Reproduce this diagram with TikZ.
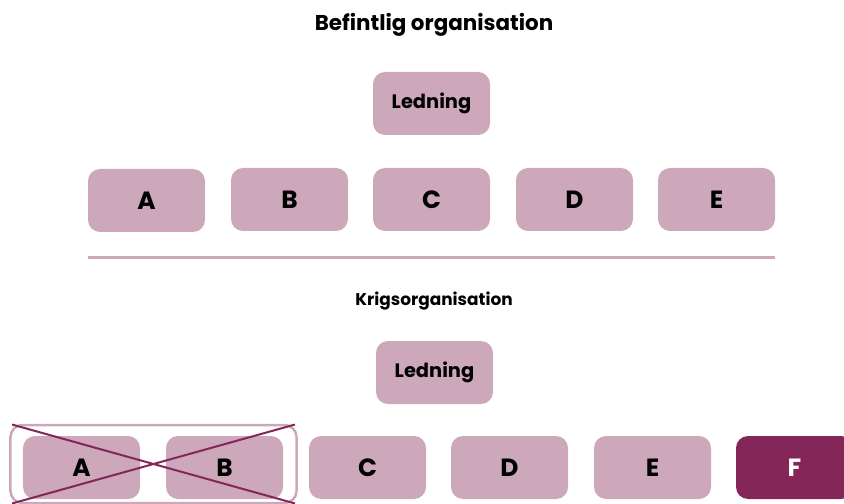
\documentclass[tikz,border=0pt]{standalone}
\usepackage{fontspec}
\setmainfont{Poppins}
\usetikzlibrary{positioning}
\definecolor{lightplum}{HTML}{CDA8BA}
\definecolor{darkplum}{HTML}{842657}
\tikzset{
    unit/.style={rounded corners=12bp, fill=lightplum, minimum width=117bp,
        minimum height=63bp, inner sep=0pt, font=\fontsize{25}{28}\selectfont\bfseries},
    leadunit/.style={unit, font=\fontsize{19.5}{22}\selectfont\bfseries},
    newunit/.style={unit, fill=darkplum, text=white},
    heading/.style={font=\fontsize{21.5}{24}\selectfont\bfseries},
    subheading/.style={font=\fontsize{17}{20}\selectfont\bfseries}
}
\begin{document}
\begin{tikzpicture}[x=1bp, y=-1bp]
    \useasboundingbox (0,0) rectangle (844,504);
    \clip (0,0) rectangle (844,504);

    % Existing organisation
    \node[heading] (title) at (434,25) {Befintlig organisation};
    \node[leadunit] (lead) at (431.5,103.5) {Ledning};
    \node[unit] (a) at (146.5,200.5) {A};
    \node[unit] (b) at (289.5,199.5) {B};
    \node[unit] (c) at (431.5,199.5) {C};
    \node[unit] (d) at (574.5,199.5) {D};
    \node[unit] (e) at (716.5,199.5) {E};

    % Separator
    \coordinate (sepl) at (88,258);
    \coordinate (sepr) at (775,258);
    \draw[lightplum, line width=3bp] (sepl) -- (sepr);

    % War organisation
    \node[subheading] (wtitle) at (434,301) {Krigsorganisation};
    \node[leadunit] (wlead) at (434.5,372.5) {Ledning};
    \node[unit] (wa) at (81.5,467.5) {A};
    \node[unit] (wb) at (224.5,467.5) {B};
    \node[unit] (wc) at (367.5,467.5) {C};
    \node[unit] (wd) at (509.5,467.5) {D};
    \node[unit] (we) at (652.5,467.5) {E};
    \node[newunit] (wf) at (794.5,467.5) {F};

    % Removed units
    \node[draw=lightplum, line width=2.5bp, rounded corners=12bp, inner sep=0pt,
        minimum width=286bp, minimum height=78bp] (gone) at (153.5,464) {};
    \draw[darkplum, line width=2bp, shorten <=3bp, shorten >=3bp]
        (gone.north west) -- (gone.south east);
    \draw[darkplum, line width=2bp, shorten <=3bp, shorten >=3bp]
        (gone.south west) -- (gone.north east);
\end{tikzpicture}
\end{document}
